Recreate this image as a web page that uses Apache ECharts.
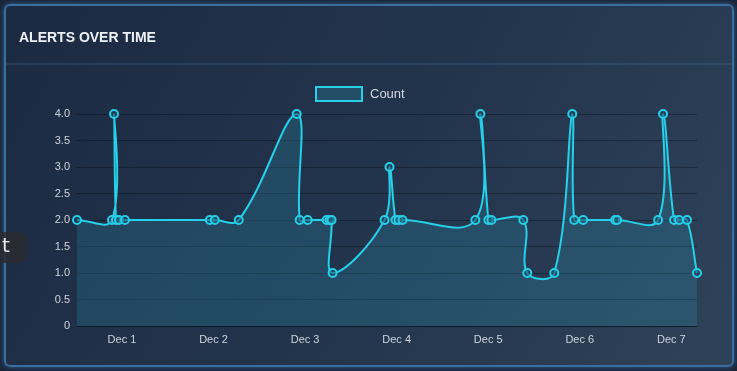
<!DOCTYPE html>
<html>
<head>
<meta charset="utf-8">
<script src="https://cdn.jsdelivr.net/npm/echarts@6/dist/echarts.min.js"></script>
<style>
  html, body { margin: 0; padding: 0; width: 737px; height: 371px; overflow: hidden; background: #1a2638; }
  #panel { position: absolute; left: 4px; top: 4px; width: 726px; height: 359px; border: 2px solid #386ea0; border-radius: 6px;
           background: linear-gradient(120deg, #1b2a41 0%, #22344c 50%, #2e4259 100%); box-shadow: 0 0 5px rgba(70,140,210,0.6); }
  #chart { position: absolute; left: 0; top: 0; width: 737px; height: 371px; }
</style>
</head>
<body>
<div id="panel"></div>
<div id="chart"></div>
<script>
// Data
const seriesName = 'Count';
const times = [
  '2023-11-30 12:13', '2023-11-30 21:24', '2023-11-30 21:55', '2023-11-30 22:26', '2023-11-30 23:13',
  '2023-12-01 00:47', '2023-12-01 23:02', '2023-12-02 00:20', '2023-12-02 06:37', '2023-12-02 21:48',
  '2023-12-02 22:35', '2023-12-03 00:41', '2023-12-03 05:39', '2023-12-03 06:26', '2023-12-03 06:57',
  '2023-12-03 07:13', '2023-12-03 20:50', '2023-12-03 22:08', '2023-12-03 23:42', '2023-12-04 00:29',
  '2023-12-04 01:32', '2023-12-04 20:38', '2023-12-04 21:57', '2023-12-05 00:03', '2023-12-05 00:50',
  '2023-12-05 09:12', '2023-12-05 10:15', '2023-12-05 17:19', '2023-12-05 22:02', '2023-12-05 22:33',
  '2023-12-06 00:54', '2023-12-06 09:17', '2023-12-06 09:48', '2023-12-06 20:32', '2023-12-06 21:50',
  '2023-12-07 00:43', '2023-12-07 02:02', '2023-12-07 04:07', '2023-12-07 06:44'
];
const counts = [
  2, 2, 4, 2, 2,
  2, 2, 2, 2, 4,
  2, 2, 2, 2, 2,
  1, 2, 3, 2, 2,
  2, 2, 4, 2, 2,
  2, 1, 1, 4, 2,
  2, 2, 2, 2, 4,
  2, 2, 2, 1
];
const monthLabel = 'Dec';
const yTicks = [0, 0.5, 1, 1.5, 2, 2.5, 3, 3.5, 4];

// convert timestamp to day number (Dec N 00:00 -> N)
function toDay(s) {
  const [d, t] = s.split(' ');
  const [Y, M, D] = d.split('-').map(Number);
  const [h, m] = t.split(':').map(Number);
  return (Date.UTC(Y, M - 1, D, h, m) - Date.UTC(2023, 10, 30)) / 86400000;
}
const xs = times.map(toDay);
const data = xs.map((x, i) => [x, counts[i]]);

const cyan = '#27cfe8';
const tension = 0.4;

// Cardinal-style spline (tension 0.4) through pixel points given by the axes
function splinePath(pts, area) {
  const n = pts.length;
  const cps = pts.map((p, i) => {
    const prev = pts[i - 1] || p, next = pts[i + 1] || p;
    const d01 = Math.hypot(p[0] - prev[0], p[1] - prev[1]);
    const d12 = Math.hypot(next[0] - p[0], next[1] - p[1]);
    let s01 = d01 / (d01 + d12), s12 = d12 / (d01 + d12);
    if (isNaN(s01)) s01 = 0;
    if (isNaN(s12)) s12 = 0;
    const fa = tension * s01, fb = tension * s12;
    const cap = (x, y) => [Math.min(Math.max(x, area.x), area.x + area.width), Math.min(Math.max(y, area.y), area.y + area.height)];
    return {
      prev: cap(p[0] - fa * (next[0] - prev[0]), p[1] - fa * (next[1] - prev[1])),
      next: cap(p[0] + fb * (next[0] - prev[0]), p[1] + fb * (next[1] - prev[1]))
    };
  });
  let d = 'M' + pts[0][0] + ' ' + pts[0][1];
  for (let i = 1; i < n; i++) {
    const a = cps[i - 1].next, b = cps[i].prev;
    d += ' C' + a[0] + ' ' + a[1] + ' ' + b[0] + ' ' + b[1] + ' ' + pts[i][0] + ' ' + pts[i][1];
  }
  return d;
}

const chart = echarts.init(document.getElementById('chart'), null, { renderer: 'canvas' });
chart.setOption({
  backgroundColor: 'transparent',
  animation: false,
  title: {
    text: 'ALERTS OVER TIME', left: 19, top: 31, padding: 0,
    textStyle: { color: '#eef2f6', fontSize: 14, fontWeight: 'bold', fontFamily: 'Liberation Sans, Arial, sans-serif' }
  },
  graphic: [
    { type: 'line', shape: { x1: 6, y1: 64, x2: 731, y2: 64 }, style: { stroke: 'rgba(90,140,190,0.35)', lineWidth: 1 } },
    { type: 'rect', shape: { x: -8, y: 232, width: 34, height: 31, r: 6 }, style: { fill: 'rgba(42,44,48,0.85)' } },
    { type: 'text', x: 2, y: 247, style: { text: 't', fill: '#e8e8e8', fontSize: 20, fontFamily: 'DejaVu Sans, sans-serif', verticalAlign: 'middle' } }
  ],
  legend: {
    data: [seriesName], top: 86, left: 315, padding: 0,
    icon: 'rect', itemWidth: 46, itemHeight: 14, itemGap: 8,
    itemStyle: { color: 'rgba(40,110,140,0.45)', borderColor: cyan, borderWidth: 2 },
    textStyle: { color: '#d4d8de', fontSize: 13, padding: [0, 0, 0, 3], fontFamily: 'Liberation Sans, Arial, sans-serif' }
  },
  grid: { left: 77, right: 40, top: 114, bottom: 45 },
  xAxis: {
    type: 'value',
    min: xs[0], max: xs[xs.length - 1],
    splitNumber: 7,
    axisLine: { show: true, lineStyle: { color: 'rgba(12,22,34,0.7)', width: 1 } },
    axisTick: { show: false },
    splitLine: { show: false },
    axisLabel: {
      color: '#d0d4da', fontSize: 11, margin: 8, fontFamily: 'Liberation Sans, Arial, sans-serif',
      showMinLabel: false, showMaxLabel: false,
      formatter: v => (Math.abs(v - Math.round(v)) < 1e-9 ? monthLabel + ' ' + Math.round(v) : '')
    }
  },
  yAxis: {
    type: 'value', min: yTicks[0], max: yTicks[yTicks.length - 1], interval: yTicks[1] - yTicks[0],
    axisLine: { show: false },
    axisTick: { show: false },
    splitLine: { lineStyle: { color: 'rgba(14,24,36,0.55)', width: 1 } },
    axisLabel: {
      color: '#d0d4da', fontSize: 11, margin: 7, fontFamily: 'Liberation Sans, Arial, sans-serif',
      formatter: v => (v === 0 ? '0' : v.toFixed(1))
    }
  },
  series: [
    {
      name: seriesName, type: 'line', data: data,
      symbol: 'circle', symbolSize: 8,
      itemStyle: { color: 'rgba(30,70,95,0.5)', borderColor: cyan, borderWidth: 2 },
      lineStyle: { color: cyan, width: 2, opacity: 0 },
      z: 4
    },
    {
      name: seriesName, type: 'custom', data: data, clip: false, z: 3,
      encode: { x: 0, y: 1 },
      renderItem: function (params, api) {
        if (params.dataIndex !== 0) return null;
        const pts = data.map(d => api.coord(d));
        const area = params.coordSys;
        const linePath = splinePath(pts, area);
        const base = api.coord([xs[0], 0])[1];
        const last = pts[pts.length - 1], first = pts[0];
        const areaPath = linePath + ' L' + last[0] + ' ' + base + ' L' + first[0] + ' ' + base + ' Z';
        return {
          type: 'group',
          children: [
            { type: 'path', shape: { pathData: areaPath }, style: { fill: 'rgba(45,160,190,0.22)', stroke: null } },
            { type: 'path', shape: { pathData: linePath }, style: { fill: null, stroke: cyan, lineWidth: 2 } }
          ]
        };
      }
    }
  ]
});
</script>
</body>
</html>
